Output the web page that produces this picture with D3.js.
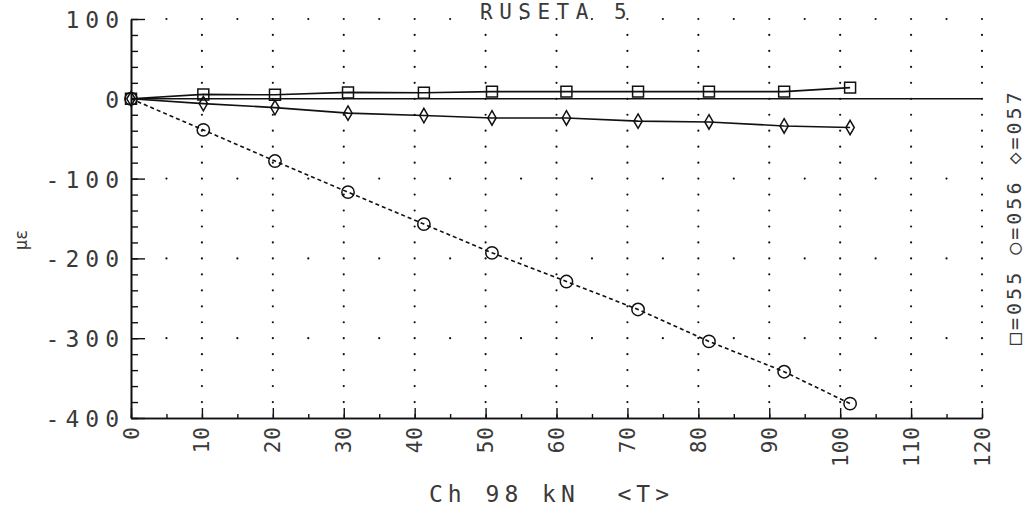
<!DOCTYPE html>
<html>
<head>
<meta charset="utf-8">
<script src="https://cdn.jsdelivr.net/npm/d3@7"></script>
<style>
  html, body { margin: 0; padding: 0; background: #fff; }
  svg { display: block; }
  text { font-family: "DejaVu Sans Mono", monospace; fill: #3a3a3a; }
</style>
</head>
<body>
<svg id="chart" width="1033" height="514"></svg>
<script>
// Load steps (kN) and strain readings (με) for the three gauges of rosette 5
const loads = [0, 10.2, 20.3, 30.6, 41.3, 50.9, 61.4, 71.5, 81.5, 92.1, 101.4];
const gauge055 = [0, 5.5, 5, 8, 7.5, 9, 9, 9, 9, 9, 14];
const gauge056 = [0, -39, -78, -117, -157, -193, -229, -264, -304, -342, -382];
const gauge057 = [0, -6, -11, -18, -21, -24, -24, -28, -29, -34, -36];

const seriesNames = ["055", "056", "057"];
const legendSymbols = ["□", "○", "◇"];

const xTickValues = [0, 10, 20, 30, 40, 50, 60, 70, 80, 90, 100, 110, 120];
const xTickLabels = ["0", "10", "20", "30", "40", "50", "60", "70", "80", "90", "100", "110", "120"];
const yTickValues = [100, 0, -100, -200, -300, -400];
const yTickLabels = ["100", "0", "-100", "-200", "-300", "-400"];

const titleText = "RUSETA 5";
const xTitleText = "Ch 98 kN  <T>";
const yTitleText = "με";

const svg = d3.select("#chart");

const x = d3.scaleLinear().domain([0, 120]).range([131, 982]);
const y = d3.scaleLinear().domain([-400, 100]).range([418, 19]);

// dotted grid: columns every 10 kN (dot every 20 με), rows every 100 με (dot every 5 kN)
const grid = svg.append("g");
const colDots = [];
d3.range(10, 121, 10).forEach(xv => {
  d3.range(-380, 101, 20).forEach(yv => colDots.push([xv, yv]));
});
const rowDots = [];
[100, -100, -200, -300].forEach(yv => {
  d3.range(5, 121, 5).forEach(xv => { if (xv % 10 !== 0) rowDots.push([xv, yv]); });
});
grid.selectAll("circle").data(colDots.concat(rowDots)).join("circle")
  .attr("cx", d => x(d[0])).attr("cy", d => y(d[1]))
  .attr("r", 1.1).attr("fill", "#111");

// zero reference line
svg.append("line")
  .attr("x1", x(0)).attr("x2", x(120))
  .attr("y1", y(0)).attr("y2", y(0))
  .attr("stroke", "#111").attr("stroke-width", 1.6);

// axes: minor ticks then major ticks
const axisStyle = g => {
  g.selectAll("path").attr("stroke", "#111").attr("stroke-width", 1.6);
  g.selectAll("line").attr("stroke", "#111").attr("stroke-width", 1.4);
  g.selectAll("text").remove();
};
svg.append("g").attr("transform", `translate(${x(0)},0)`)
  .call(d3.axisLeft(y).tickValues(d3.range(-400, 101, 20)).tickSize(-7).tickSizeOuter(0))
  .call(axisStyle);
svg.append("g").attr("transform", `translate(${x(0)},0)`)
  .call(d3.axisLeft(y).tickValues(yTickValues).tickSize(-14).tickSizeOuter(0))
  .call(axisStyle);
svg.append("g").attr("transform", `translate(0,${y(-400)})`)
  .call(d3.axisBottom(x).tickValues(d3.range(0, 121, 5)).tickSize(-4).tickSizeOuter(0))
  .call(axisStyle);
svg.append("g").attr("transform", `translate(0,${y(-400)})`)
  .call(d3.axisBottom(x).tickValues(xTickValues).tickSize(-10).tickSizeOuter(0))
  .call(axisStyle);

// y tick labels
svg.append("g").selectAll("text").data(yTickValues).join("text")
  .attr("x", 125).attr("y", d => y(d) + 9)
  .attr("text-anchor", "end")
  .attr("font-size", 23).attr("letter-spacing", 6)
  .text((d, i) => yTickLabels[i]);

// x tick labels, rotated to read upwards
svg.append("g").selectAll("text").data(xTickValues).join("text")
  .attr("transform", d => `translate(${x(d)},${426}) rotate(-90)`)
  .attr("text-anchor", "end")
  .attr("dy", "0.36em")
  .attr("font-size", 21).attr("letter-spacing", 1)
  .text((d, i) => xTickLabels[i]);

// titles
svg.append("text").attr("x", 480).attr("y", 19)
  .attr("font-size", 21).attr("letter-spacing", 6.5).text(titleText);
svg.append("text").attr("x", 429).attr("y", 502)
  .style("white-space", "pre")
  .attr("font-size", 23).attr("letter-spacing", 5).text(xTitleText);
svg.append("text")
  .attr("transform", "translate(21,240) rotate(-90)")
  .attr("text-anchor", "middle").attr("dy", "0.36em")
  .attr("font-size", 17).text(yTitleText);

// legend, rotated along the right edge
svg.append("text")
  .attr("transform", "translate(1014,345) rotate(-90)")
  .attr("dy", "0.36em")
  .attr("font-size", 20).attr("letter-spacing", 3)
  .text(seriesNames.map((n, i) => legendSymbols[i] + "=" + n).join(" "));

// data series
const series = [
  { name: seriesNames[0], values: gauge055, dash: null, marker: "square" },
  { name: seriesNames[1], values: gauge056, dash: "4,3", marker: "circle" },
  { name: seriesNames[2], values: gauge057, dash: null, marker: "diamond" }
];
const line = d3.line().x(d => x(d[0])).y(d => y(d[1]));
const symbolFor = {
  square: d3.symbol().type(d3.symbolSquare).size(120),
  circle: d3.symbol().type(d3.symbolCircle).size(120),
  diamond: d3.symbol().type(d3.symbolDiamond).size(60)
};
series.forEach(s => {
  const pts = loads.map((l, i) => [l, s.values[i]]);
  svg.append("path").datum(pts)
    .attr("d", line).attr("fill", "none")
    .attr("stroke", "#111").attr("stroke-width", 1.6)
    .attr("stroke-dasharray", s.dash);
  svg.append("g").selectAll("path").data(pts).join("path")
    .attr("transform", d => `translate(${x(d[0])},${y(d[1])})`)
    .attr("d", symbolFor[s.marker])
    .attr("fill", "none").attr("stroke", "#111").attr("stroke-width", 1.5);
});
</script>
</body>
</html>
